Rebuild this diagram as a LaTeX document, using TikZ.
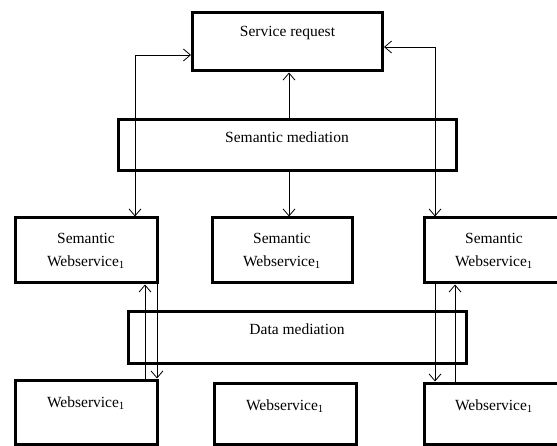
\documentclass[tikz,border=0pt]{standalone}
\usepackage{fontspec}
\setmainfont{Liberation Serif}
\usetikzlibrary{arrows.meta}

\tikzset{
  box/.style={draw, line width=3pt, inner sep=0pt, align=center,
    font=\fontsize{15.5}{23}\selectfont},
  link/.style={line width=.8pt},
  >={Straight Barb[length=7pt,width=12pt]}
}

\begin{document}
\begin{tikzpicture}[x=1pt,y=-1pt]
\useasboundingbox (0,0) rectangle (557,446);
\clip (0,0) rectangle (557,446);

% top
\node[box, minimum width=190, text height=24, text depth=34] (req) at (287.5,42) {Service request};
\node[box, minimum width=338, text height=23, text depth=28] (sm) at (287,145.5) {Semantic mediation};

% semantic webservices
\node[box, minimum width=142, minimum height=65] (sw1) at (86,250.5) {Semantic\\Webservice\textsubscript{1}};
\node[box, minimum width=140, minimum height=65] (sw2) at (282,250.5) {Semantic\\Webservice\textsubscript{1}};
\node[box, minimum width=140, minimum height=65] (sw3) at (494,250.5) {Semantic\\Webservice\textsubscript{1}};

\node[box, minimum width=338, text height=23, text depth=28] (dm) at (297,337.5) {Data mediation};

% webservices
\node[box, minimum width=142, text height=27, text depth=37] (ws1) at (86,412) {Webservice\textsubscript{1}};
\node[box, minimum width=142, text height=27, text depth=34] (ws2) at (285,413.5) {Webservice\textsubscript{1}};
\node[box, minimum width=140, text height=27, text depth=34] (ws3) at (494,413.5) {Webservice\textsubscript{1}};

\coordinate (lx) at (135,55);
\coordinate (rx) at (435,47);
\coordinate (cx) at (289,0);
\coordinate (a) at (145,0);
\coordinate (b) at (157,0);
\coordinate (c) at (455,0);

\draw[link,<->] (req.west |- lx) -| (sw1.north -| lx);
\draw[link,<->] (req.east |- rx) -| (sw3.north -| rx);
\draw[link,->] (sm.north -| cx) -- (req.south -| cx);
\draw[link,->] (sm.south -| cx) -- (sw2.north -| cx);

\draw[link,->] (ws1.north -| a) -- (sw1.south -| a);
\draw[link,->] (sw1.south -| b) -- (ws1.north -| b);
\draw[link,->] (sw3.south -| rx) -- (ws3.north -| rx);
\draw[link,->] (ws3.north -| c) -- (sw3.south -| c);
\end{tikzpicture}
\end{document}
